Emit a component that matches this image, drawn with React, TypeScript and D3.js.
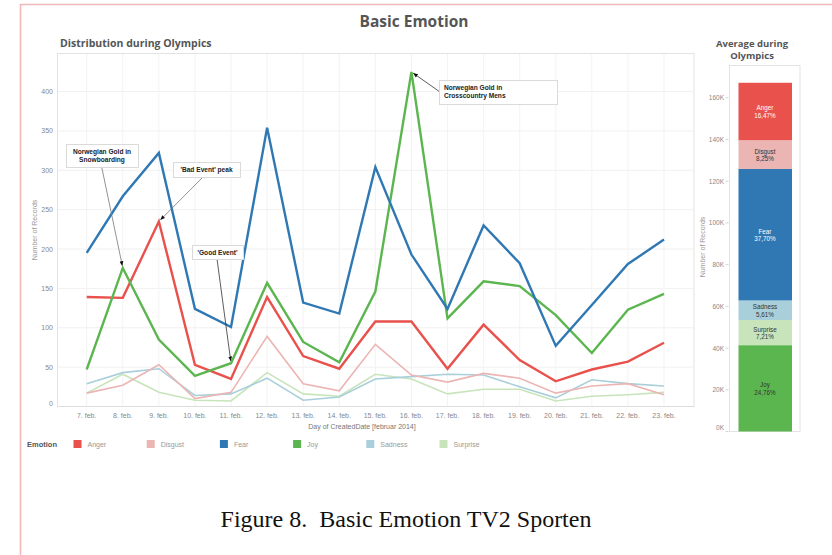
import React from "react";
import * as d3 from "d3";

const days = ["7. feb.", "8. feb.", "9. feb.", "10. feb.", "11. feb.", "12. feb.", "13. feb.", "14. feb.", "15. feb.", "16. feb.", "17. feb.", "18. feb.", "19. feb.", "20. feb.", "21. feb.", "22. feb.", "23. feb."];
const emotions = ["Anger", "Disgust", "Fear", "Joy", "Sadness", "Surprise"];
const colors = ["#e8514c", "#ebb5b3", "#2f78b3", "#5cb64f", "#a9cfdb", "#c8e4bb"];

const anger = [139, 138, 235, 53, 35, 139, 64, 48, 108, 108, 48, 104, 59, 32, 47, 57, 81];
const disgust = [17, 27, 53, 10, 18, 89, 29, 20, 79, 40, 31, 42, 36, 17, 26, 29, 15];
const fear = [195, 267, 322, 124, 101, 354, 132, 118, 304, 193, 124, 230, 182, 77, 129, 181, 212];
const joy = [47, 176, 85, 39, 55, 157, 82, 56, 146, 425, 112, 159, 153, 116, 68, 123, 143];
const sadness = [29, 43, 48, 14, 16, 36, 8, 12, 35, 38, 41, 40, 25, 11, 34, 29, 26];
const surprise = [17, 41, 18, 8, 7, 43, 16, 13, 41, 35, 16, 22, 22, 7, 13, 15, 18];
const series = [anger, disgust, fear, joy, sadness, surprise];

const yTicks = [0, 50, 100, 150, 200, 250, 300, 350, 400];

// right panel
const barTotal = 167200;
const barOrder = ["Joy", "Surprise", "Sadness", "Fear", "Disgust", "Anger"];
const barShares = [24.76, 7.21, 5.61, 37.7, 8.25, 16.47];
const barTicks = [0, 20000, 40000, 60000, 80000, 100000, 120000, 140000, 160000];

const SANS = "'Liberation Sans', Arial, sans-serif";
const TITLE = "'Open Sans', 'DejaVu Sans', sans-serif";

export default function App() {
  const x = d3.scalePoint<string>().domain(days).range([86.7, 664]);
  const y = d3.scaleLinear().domain([0, 449]).range([406.5, 53]);
  const line = d3
    .line<number>()
    .x((_, i) => x(days[i]) as number)
    .y((d) => y(d));

  const yb = d3.scaleLinear().domain([0, 175000]).range([431.5, 66.5]);
  let cum = 0;
  const stacks = barShares.map((s, i) => {
    const v = (s / 100) * barTotal;
    const r = { name: barOrder[i], y0: cum, y1: cum + v, share: s };
    cum += v;
    return r;
  });
  const colorOf = (n: string) => colors[emotions.indexOf(n)];
  const darkText = new Set(["Disgust", "Sadness", "Surprise", "Joy"]);

  const pt = (dayIdx: number, arr: number[]) => [x(days[dayIdx]) as number, y(arr[dayIdx])];
  const arrowTo = (from: number[], to: number[], back = 2) => {
    const dx = to[0] - from[0], dy = to[1] - from[1];
    const L = Math.hypot(dx, dy);
    return [to[0] - (dx / L) * back, to[1] - (dy / L) * back];
  };

  const annotations = [
    { lines: ["Norwegian Gold in", "Snowboarding"], box: [66, 144, 72, 23], from: [101.7, 167], target: pt(1, joy) },
    { lines: ["'Bad Event' peak"], box: [173, 162, 67, 15], from: [203, 177], target: pt(2, anger) },
    { lines: ["'Good Event'"], box: [192, 245, 51, 14], from: [217, 259], target: pt(4, joy) },
    { lines: ["Norwegian Gold in", "Crosscountry Mens"], box: [439, 80, 118, 24], from: [440, 92], target: pt(9, joy) },
  ];

  return (
    <svg width={832} height={555} style={{ position: "absolute", left: 0, top: 0, background: "#fff" }}>
      <defs>
        <marker id="arr" viewBox="0 0 10 10" refX="9" refY="5" markerWidth="6" markerHeight="6" orient="auto-start-reverse">
          <path d="M0,1 L10,5 L0,9 z" fill="#111" />
        </marker>
      </defs>
      <rect x={0} y={0} width={832} height={555} fill="#fff" />
      {/* pink frame */}
      <path d="M20.5,560 L20.5,4.5 L840,4.5" fill="none" stroke="#efb9b9" strokeWidth={1.6} />

      <text x={414} y={27} textAnchor="middle" fontFamily={TITLE} fontWeight="bold" fontSize={15.5} fill="#555">Basic Emotion</text>
      <text x={60} y={47} fontFamily={TITLE} fontWeight="bold" fontSize={10.5} fill="#555">Distribution during Olympics</text>

      {/* plot frame & grid */}
      <rect x={57.5} y={53.5} width={636.5} height={353} fill="none" stroke="#e3e3e3" strokeWidth={1} />
      {yTicks.map((t) => (
        <line key={"h" + t} x1={58} x2={694} y1={y(t)} y2={y(t)} stroke={t === 0 ? "#dcdcdc" : "#f1f1f1"} strokeWidth={1} />
      ))}
      {days.map((d) => (
        <line key={"v" + d} x1={x(d)} x2={x(d)} y1={54} y2={406} stroke="#f3f3f3" strokeWidth={1} />
      ))}
      {yTicks.map((t) => (
        <text key={"yt" + t} x={53} y={y(t) + (t === 0 ? -1 : 2.5)} textAnchor="end" fontFamily={SANS} fontSize={7} fill="#888">{t}</text>
      ))}
      {days.map((d) => (
        <text key={"xt" + d} x={x(d)} y={418} textAnchor="middle" fontFamily={SANS} fontSize={7} fill="#888">{d}</text>
      ))}
      <text x={362} y={429} textAnchor="middle" fontFamily={SANS} fontSize={7} fill="#777">Day of CreatedDate [februar 2014]</text>
      <text transform="translate(37,230) rotate(-90)" textAnchor="middle" fontFamily={SANS} fontSize={7} fill="#999">Number of Records</text>

      {/* lines: light ones first */}
      {[5, 4, 1, 0, 3, 2].map((i) => (
        <path key={emotions[i]} d={line(series[i]) || ""} fill="none" stroke={colors[i]} strokeWidth={i === 0 || i === 2 || i === 3 ? 2.4 : 1.6} strokeLinejoin="miter" />
      ))}

      {/* annotations */}
      {annotations.map((a, k) => {
        const tip = arrowTo(a.from, a.target, 2.5);
        return (
          <g key={"a" + k}>
            <line x1={a.from[0]} y1={a.from[1]} x2={tip[0]} y2={tip[1]} stroke={k === 1 || k === 0 ? "#777" : "#333"} strokeWidth={0.8} markerEnd="url(#arr)" />
            <rect x={a.box[0] + 0.5} y={a.box[1] + 0.5} width={a.box[2]} height={a.box[3]} fill="#fff" stroke="#dadada" strokeWidth={1} />
            {a.lines.map((l, j) => (
              <text key={j} x={k === 3 ? a.box[0] + 5 : a.box[0] + a.box[2] / 2} y={a.box[1] + (a.lines.length === 1 ? 10 : 9.5 + j * 8.5)} textAnchor={k === 3 ? "start" : "middle"} fontFamily={SANS} fontWeight="bold" fontSize={6.6} fill="#222">{l}</text>
            ))}
          </g>
        );
      })}

      {/* legend */}
      <text x={27} y={447} fontFamily={SANS} fontWeight="bold" fontSize={7.5} fill="#555">Emotion</text>
      {emotions.map((e, i) => (
        <g key={"lg" + e} transform={`translate(${73.5 + i * 73.2},440)`}>
          <rect x={0} y={0} width={8} height={8} fill={colors[i]} />
          <text x={14} y={7} fontFamily={SANS} fontSize={7} fill="#999">{e}</text>
        </g>
      ))}

      {/* right panel */}
      <text x={752} y={47} textAnchor="middle" fontFamily={TITLE} fontWeight="bold" fontSize={9.5} fill="#555">Average during</text>
      <text x={752} y={59} textAnchor="middle" fontFamily={TITLE} fontWeight="bold" fontSize={9.5} fill="#555">Olympics</text>
      <rect x={729.5} y={65.5} width={70.5} height={366} fill="none" stroke="#e3e3e3" strokeWidth={1} />
      {barTicks.map((t) => (
        <g key={"bt" + t}>
          <text x={724} y={yb(t) + (t === 0 ? -1.5 : 2.5)} textAnchor="end" fontFamily={SANS} fontSize={6.5} fill="#888">{t / 1000 + "K"}</text>
          <line x1={725.5} x2={728.5} y1={yb(t)} y2={yb(t)} stroke="#ccc" strokeWidth={0.8} />
        </g>
      ))}
      <text transform="translate(705,247) rotate(-90)" textAnchor="middle" fontFamily={SANS} fontSize={7} fill="#999">Number of Records</text>
      {stacks.map((s) => (
        <g key={"st" + s.name}>
          <rect x={738.5} width={53.5} y={yb(s.y1)} height={yb(s.y0) - yb(s.y1)} fill={colorOf(s.name)} />
          <text x={765} y={(yb(s.y0) + yb(s.y1)) / 2 - 1} textAnchor="middle" fontFamily={SANS} fontSize={6.3} fill={darkText.has(s.name) ? "#333" : "#fff"}>{s.name}</text>
          <text x={765} y={(yb(s.y0) + yb(s.y1)) / 2 + 6.5} textAnchor="middle" fontFamily={SANS} fontSize={6.3} fill={darkText.has(s.name) ? "#333" : "#fff"}>{s.share.toFixed(2).replace(".", ",") + "%"}</text>
        </g>
      ))}

      <text x={406} y={527} textAnchor="middle" fontFamily="'Liberation Serif', 'Times New Roman', serif" fontSize={24} fill="#111">Figure 8.{"\u00a0\u00a0"}Basic Emotion TV2 Sporten</text>
    </svg>
  );
}
